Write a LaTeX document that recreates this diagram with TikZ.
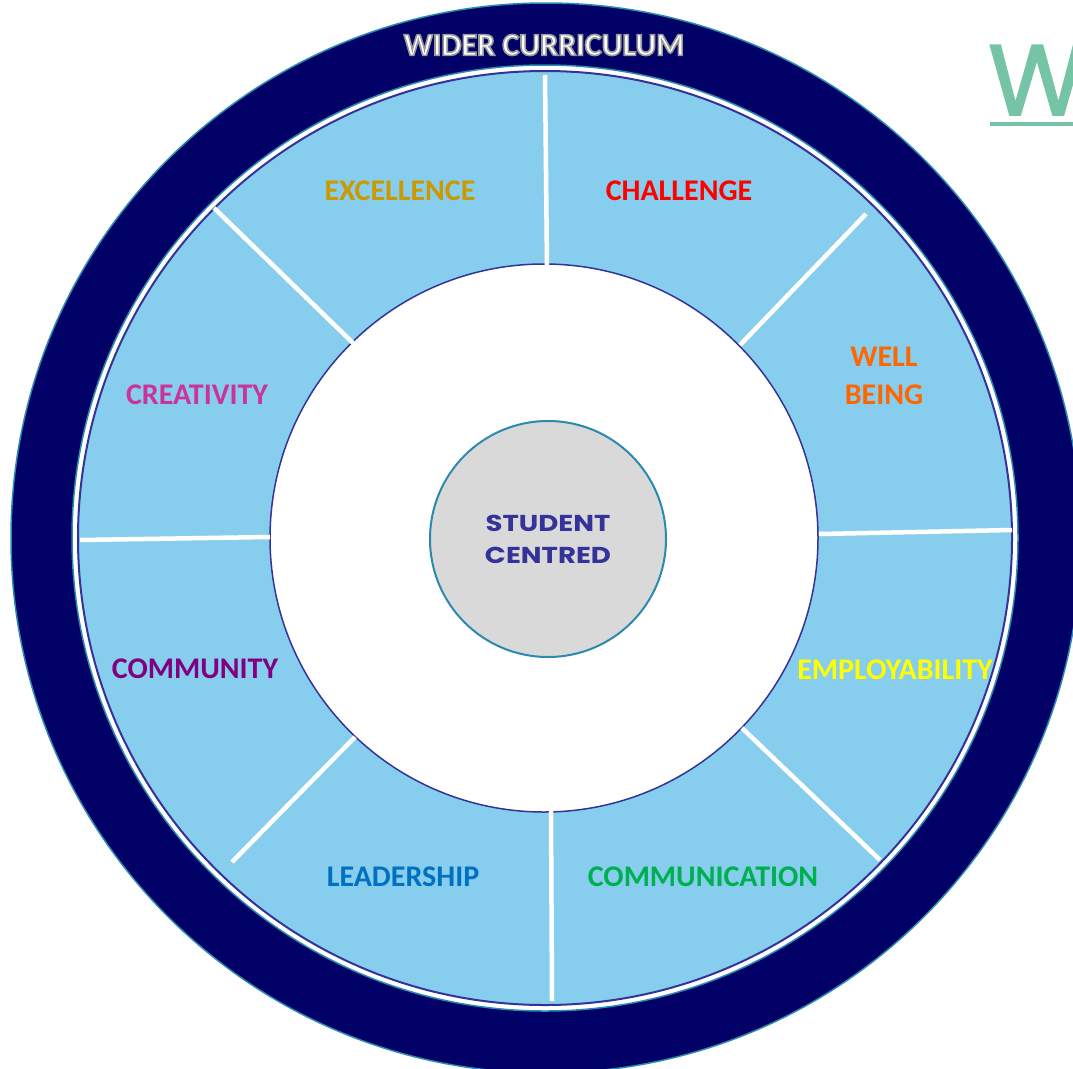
\documentclass[tikz,border=0pt]{standalone}
\usepackage{fontspec}
\setmainfont{Carlito}
\newfontfamily\popfont{Poppins}
\newfontfamily\popwide{Poppins}[FakeStretch=1.2]
\definecolor{navyring}{HTML}{000066}
\definecolor{tealedge}{HTML}{2A8AB0}
\definecolor{ringblue}{HTML}{87CEEE}
\definecolor{outl}{HTML}{333399}
\definecolor{greyc}{HTML}{D9D9D9}
\definecolor{cExc}{HTML}{CC9900}
\definecolor{cCha}{HTML}{FF0000}
\definecolor{cWell}{HTML}{FF6600}
\definecolor{cEmp}{HTML}{FFFF00}
\definecolor{cComm}{HTML}{00B050}
\definecolor{cLead}{HTML}{0070C0}
\definecolor{cCty}{HTML}{800080}
\definecolor{cCre}{HTML}{CC3399}
\definecolor{wgreen}{HTML}{76C4A6}
\tikzset{
  lbl/.style={font=\fontsize{30}{38}\selectfont\bfseries, inner sep=0pt, align=center},
  divider/.style={draw=white, line width=4.5pt},
}
\begin{document}
\begin{tikzpicture}[x=1pt,y=-1pt]
\useasboundingbox (0,0) rectangle (1073,1068);
\clip (0,0) rectangle (1073,1068);
\fill[white] (0,0) rectangle (1073,1068);
% rings
\node[circle, fill=navyring, draw=tealedge, line width=1.5pt, minimum size=1070pt, inner sep=0pt] (navy) at (546,538) {};
\node[circle, fill=white, draw=tealedge, line width=1.5pt, minimum size=946pt, inner sep=0pt] (gap) at (545,538) {};
\node[circle, fill=ringblue, draw=outl, line width=2pt, minimum size=934pt, inner sep=0pt] (ring) at (545,538) {};
\node[circle, fill=white, draw=outl, line width=1.5pt, minimum size=548pt, inner sep=0pt] (inner) at (544,538) {};
% dividers
\coordinate (d1a) at (545,75);  \coordinate (d1b) at (547,267);
\coordinate (d2a) at (866,214); \coordinate (d2b) at (740,345);
\coordinate (d3a) at (1012,530);\coordinate (d3b) at (819,534);
\coordinate (d4a) at (742,728); \coordinate (d4b) at (880,860);
\coordinate (d5a) at (551,809); \coordinate (d5b) at (552,1001);
\coordinate (d6a) at (355,737); \coordinate (d6b) at (232,862);
\coordinate (d7a) at (80,540);  \coordinate (d7b) at (270,537);
\coordinate (d8a) at (214,208); \coordinate (d8b) at (353,343);
\foreach \i in {1,...,8} {\draw[divider] (d\i a) -- (d\i b);}
% centre
\node[circle, fill=greyc, draw=tealedge, line width=2pt, minimum size=236pt, inner sep=0pt] (centre) at (548,539) {};
\node[font=\popwide\fontsize{23}{32}\selectfont\bfseries, text=outl, inner sep=0pt, align=center] (ctext) at (548,539) {STUDENT\\CENTRED};
% labels
\node[lbl, text=cExc] (exc) at (400,191) {EXCELLENCE};
\node[lbl, text=cCha] (cha) at (679,191) {CHALLENGE};
\node[lbl, text=cWell] (well) at (884,376) {WELL\\BEING};
\node[lbl, text=cCre] (cre) at (197,395) {CREATIVITY};
\node[lbl, text=cEmp] (emp) at (895,670) {EMPLOYABILITY};
\node[lbl, text=cCty] (cty) at (195,669) {COMMUNITY};
\node[lbl, text=cLead] (lead) at (403,877) {LEADERSHIP};
\node[lbl, text=cComm] (comm) at (703,877) {COMMUNICATION};
% title
\node[font=\fontsize{32}{38}\selectfont\bfseries, inner sep=0pt, text=white] (wc) at (544,45)
  {\special{pdf:literal direct 2 Tr 1.6 w 0.6 0.6 0.6 RG}WIDER CURRICULUM};
% green W
\node[font=\popfont\fontsize{100}{100}\selectfont, text=wgreen, inner sep=0pt, anchor=base west] (wtitle) at (988,115)
  {\special{pdf:literal direct 2 Tr 1.8 w}W};
\coordinate (ulend) at (1080,124);
\draw[wgreen, line width=4.5pt] (990,124) -- (ulend);
\end{tikzpicture}
\end{document}
